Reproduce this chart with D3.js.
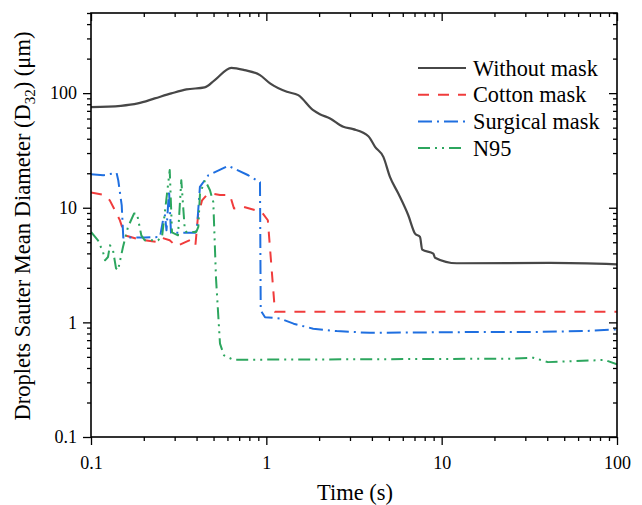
<!DOCTYPE html>
<html>
<head>
<meta charset="utf-8">
<script src="https://cdn.jsdelivr.net/npm/d3@7"></script>
<style>
  body { margin: 0; background: #fff; }
</style>
</head>
<body>
<div id="chart"></div>
<script>
// data: [time (s), D32 (um)]
const withoutMask = [[0.1,75.4],[0.148,77.5],[0.185,81.3],[0.231,89.9],[0.287,99.4],[0.35,107.7],[0.445,112.1],
  [0.508,129.8],[0.631,166.3],[0.753,158.8],[0.92,143.6],[1.05,121.5],[1.31,102.6],[1.52,96.0],[1.85,71.0],
  [2.02,65.5],[2.31,60.1],[2.75,50.8],[3.13,48.5],[3.82,42.1],[4.17,34.0],[4.65,27.8],[5.07,18.6],[5.66,13.3],
  [6.45,8.6],[7.05,5.95],[7.52,5.56],[7.75,4.31],[8.96,3.98],[9.16,3.67],[12.2,3.28],[41.5,3.30],[100,3.21]];

const cottonMask = [[0.1,13.6],[0.12,12.9],[0.128,11.6],[0.137,9.5],[0.146,7.8],[0.156,5.75],[0.181,5.38],
  [0.202,5.2],[0.236,5.03],[0.252,5.49],[0.281,5.2],[0.307,4.61],[0.348,5.03],[0.373,5.28],[0.394,4.71],
  [0.408,8.6],[0.43,11.6],[0.457,12.9],[0.488,13.3],[0.544,12.9],[0.62,12.9],[0.654,9.84],[0.739,10.2],
  [0.941,9.19],[1.02,7.78],[1.12,1.235],[100,1.235]];

const surgicalMask = [[0.1,19.6],[0.1175,19.2],[0.1255,19.6],[0.14,20.1],[0.143,17.4],[0.1497,10.5],[0.1528,5.49],
  [0.203,5.49],[0.2475,5.56],[0.2575,7.78],[0.264,8.6],[0.2695,6.36],[0.2786,14.2],[0.2859,6.05],[0.392,6.05],
  [0.402,6.62],[0.418,15.2],[0.467,19.2],[0.607,23.2],[0.789,19.2],[0.92,16.7],[0.929,1.27],[0.983,1.11],
  [1.2,1.08],[1.43,0.974],[1.85,0.881],[2.52,0.839],[3.9,0.81],[13.9,0.823],[31.9,0.823],[64.2,0.839],[100,0.869]];

const n95 = [[0.1,6.15],[0.1096,5.2],[0.1171,4.11],[0.1202,3.48],[0.125,3.72],[0.1283,4.71],[0.1335,4.26],
  [0.1389,2.96],[0.1426,2.85],[0.1483,3.77],[0.1522,4.55],[0.1626,6.8],[0.1759,8.9],[0.1829,8.9],[0.1936,5.75],
  [0.2024,5.2],[0.2411,5.2],[0.2541,5.56],[0.2812,21.3],[0.2897,6.11],[0.3135,5.75],[0.3273,17.4],[0.3423,6.62],
  [0.3495,6.15],[0.3987,6.15],[0.4093,6.8],[0.4184,13.3],[0.4469,17.4],[0.4771,14.2],[0.4983,11.2],[0.5164,2.42],
  [0.5441,0.652],[0.5737,0.515],[0.6482,0.472],[24.5,0.482],[33.3,0.492],[40.4,0.45],[73.3,0.466],[85.4,0.47],[100,0.43]];

const xTicks = [0.1, 1, 10, 100];
const yTicks = [0.1, 1, 10, 100];
const xTickLabels = ["0.1", "1", "10", "100"];
const yTickLabels = ["0.1", "1", "10", "100"];

const seriesNames = ["Without mask", "Cotton mask", "Surgical mask", "N95"];

const W = 642, H = 505;
const mLeft = 91, mRight = 617, mTop = 13, mBottom = 437;
const FONT = "'Liberation Serif', 'Times New Roman', serif";

const svg = d3.select("#chart").append("svg")
  .attr("width", W)
  .attr("height", H)
  .attr("font-family", FONT);

const x = d3.scaleLog().domain([0.1, 100]).range([mLeft, mRight]);
const y = d3.scaleLog().domain([0.1, 500]).range([mBottom, mTop]);

// line styles
const series = [
  { name: seriesNames[0], data: withoutMask, color: "#474747", dash: null, w: 2.2, curve: d3.curveMonotoneX },
  { name: seriesNames[1], data: cottonMask, color: "#f03c3c", dash: "11,9", w: 2, curve: d3.curveLinear },
  { name: seriesNames[2], data: surgicalMask, color: "#1f6fe0", dash: "14,5,2,5", w: 2, curve: d3.curveLinear },
  { name: seriesNames[3], data: n95, color: "#2ca65e", dash: "12,5,2,5,2,5", w: 2, curve: d3.curveLinear }
];

svg.append("clipPath").attr("id", "plotclip")
  .append("rect").attr("x", mLeft).attr("y", mTop).attr("width", mRight - mLeft).attr("height", mBottom - mTop);

const plot = svg.append("g").attr("clip-path", "url(#plotclip)");

series.forEach(s => {
  const line = d3.line().x(d => x(d[0])).y(d => y(d[1])).curve(s.curve);
  plot.append("path")
    .datum(s.data)
    .attr("d", line)
    .attr("fill", "none")
    .attr("stroke", s.color)
    .attr("stroke-width", s.w)
    .attr("stroke-dasharray", s.dash)
    .attr("stroke-linejoin", "round");
});

// axes - majors and minors
const xMinor = x.ticks().filter(t => xTicks.indexOf(t) < 0);
const yMinor = y.ticks().filter(t => yTicks.indexOf(t) < 0);

function styleAxis(g) {
  g.attr("font-family", FONT).attr("font-size", 18);
  g.select(".domain").remove();
  g.selectAll("line").attr("stroke", "#000").attr("stroke-width", 1.3);
  g.selectAll("text").attr("fill", "#000");
}

// bottom
svg.append("g").attr("transform", `translate(0,${mBottom})`)
  .call(d3.axisBottom(x).tickValues(xTicks).tickSize(8).tickPadding(11)
    .tickFormat((d, i) => xTickLabels[i]))
  .call(styleAxis);
svg.append("g").attr("transform", `translate(0,${mBottom})`)
  .call(d3.axisBottom(x).tickValues(xMinor).tickSize(4).tickFormat(""))
  .call(styleAxis);
// top (inward)
svg.append("g").attr("transform", `translate(0,${mTop})`)
  .call(d3.axisBottom(x).tickValues(xTicks).tickSize(8).tickFormat(""))
  .call(styleAxis);
svg.append("g").attr("transform", `translate(0,${mTop})`)
  .call(d3.axisBottom(x).tickValues(xMinor).tickSize(4).tickFormat(""))
  .call(styleAxis);
// left
svg.append("g").attr("transform", `translate(${mLeft},0)`)
  .call(d3.axisLeft(y).tickValues(yTicks).tickSize(8).tickPadding(6)
    .tickFormat((d, i) => yTickLabels[i]))
  .call(styleAxis);
svg.append("g").attr("transform", `translate(${mLeft},0)`)
  .call(d3.axisLeft(y).tickValues(yMinor).tickSize(4).tickFormat(""))
  .call(styleAxis);
// right (inward)
svg.append("g").attr("transform", `translate(${mRight},0)`)
  .call(d3.axisLeft(y).tickValues(yTicks).tickSize(8).tickFormat(""))
  .call(styleAxis);
svg.append("g").attr("transform", `translate(${mRight},0)`)
  .call(d3.axisLeft(y).tickValues(yMinor).tickSize(4).tickFormat(""))
  .call(styleAxis);

// frame
svg.append("rect")
  .attr("x", mLeft).attr("y", mTop)
  .attr("width", mRight - mLeft).attr("height", mBottom - mTop)
  .attr("fill", "none").attr("stroke", "#000").attr("stroke-width", 1.6);

// axis titles
svg.append("text")
  .attr("x", 355).attr("y", 500)
  .attr("text-anchor", "middle")
  .attr("font-size", 22.5)
  .text("Time (s)");

const yt = svg.append("text")
  .attr("transform", `translate(30,226) rotate(-90)`)
  .attr("text-anchor", "middle")
  .attr("font-size", 22.5);
yt.append("tspan").text("Droplets Sauter Mean Diameter (D");
yt.append("tspan").attr("font-size", 15).attr("dy", 5).text("32");
yt.append("tspan").attr("dy", -5).text(") (\u03bcm)");

// legend
const legend = svg.append("g").attr("transform", "translate(418,68)");
series.forEach((s, i) => {
  const g = legend.append("g").attr("transform", `translate(0,${i * 26.7})`);
  g.append("line")
    .attr("x1", 0).attr("x2", 48).attr("y1", 0).attr("y2", 0)
    .attr("stroke", s.color).attr("stroke-width", s.w)
    .attr("stroke-dasharray", s.dash);
  g.append("text")
    .attr("x", 55).attr("y", 7.5)
    .attr("font-size", 22.3)
    .text(s.name);
});
</script>
</body>
</html>
